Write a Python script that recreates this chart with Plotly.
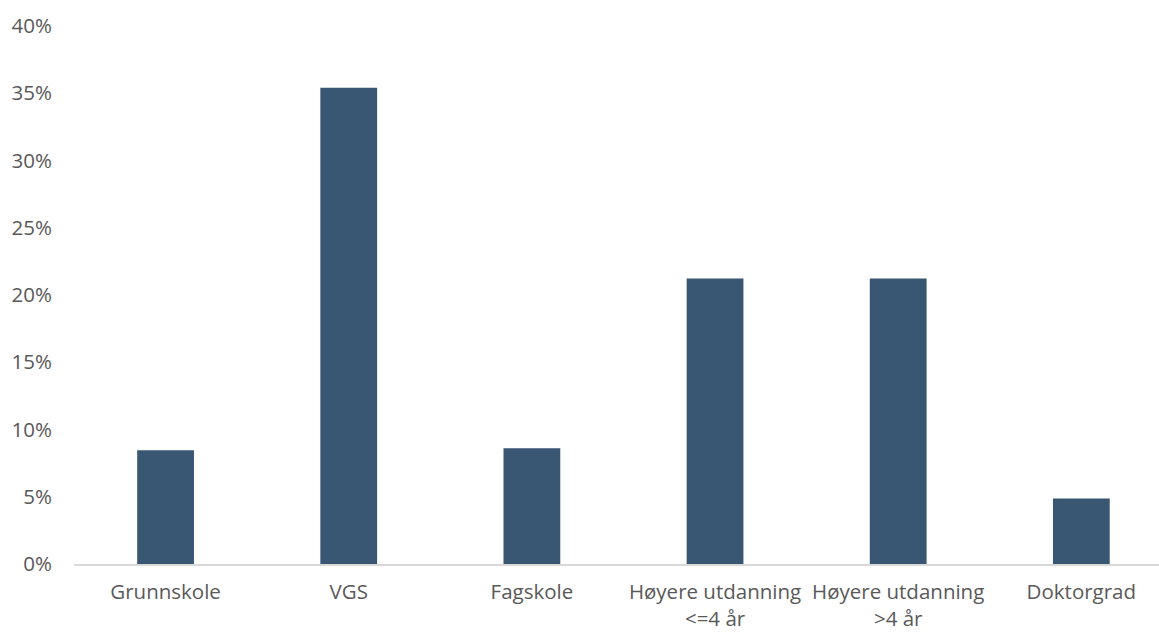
import plotly.graph_objects as go

# Share of people by highest completed education level
categories = ["Grunnskole", "VGS", "Fagskole", "Høyere utdanning<br><=4 år",
              "Høyere utdanning<br>>4 år", "Doktorgrad"]
shares = [0.0845, 0.354, 0.086, 0.2122, 0.2122, 0.0487]
tick_vals = [0, 0.05, 0.10, 0.15, 0.20, 0.25, 0.30, 0.35, 0.40]
tick_text = ["0%", "5%", "10%", "15%", "20%", "25%", "30%", "35%", "40%"]

bar_color = "#395673"
text_color = "#595959"
font_family = "Open Sans, Liberation Sans, sans-serif"
font_size = 20.5

fig = go.Figure(
    go.Bar(
        x=list(range(len(categories))),
        y=shares,
        width=0.31,
        marker=dict(color=bar_color, line=dict(width=0)),
        hoverinfo="skip",
    )
)

fig.update_layout(
    width=1159,
    height=632,
    margin=dict(l=74, r=0, t=26, b=68),
    plot_bgcolor="white",
    paper_bgcolor="white",
    showlegend=False,
    font=dict(family=font_family, size=font_size, color=text_color),
    xaxis=dict(
        tickmode="array",
        tickvals=list(range(len(categories))),
        ticktext=categories,
        range=[-0.5, 5.424],
        showgrid=False,
        zeroline=False,
        showline=True,
        linecolor="#D9D9D9",
        linewidth=1.5,
        ticks="",
        automargin=False,
        ticklabelstandoff=9,
        tickfont=dict(family=font_family, size=font_size, color=text_color),
    ),
    yaxis=dict(
        tickmode="array",
        tickvals=tick_vals,
        ticktext=tick_text,
        range=[0, 0.40],
        showgrid=False,
        zeroline=False,
        showline=False,
        ticks="",
        automargin=False,
        ticklabelstandoff=21,
        tickfont=dict(family=font_family, size=font_size, color=text_color),
    ),
)

fig.write_html("out.html")
